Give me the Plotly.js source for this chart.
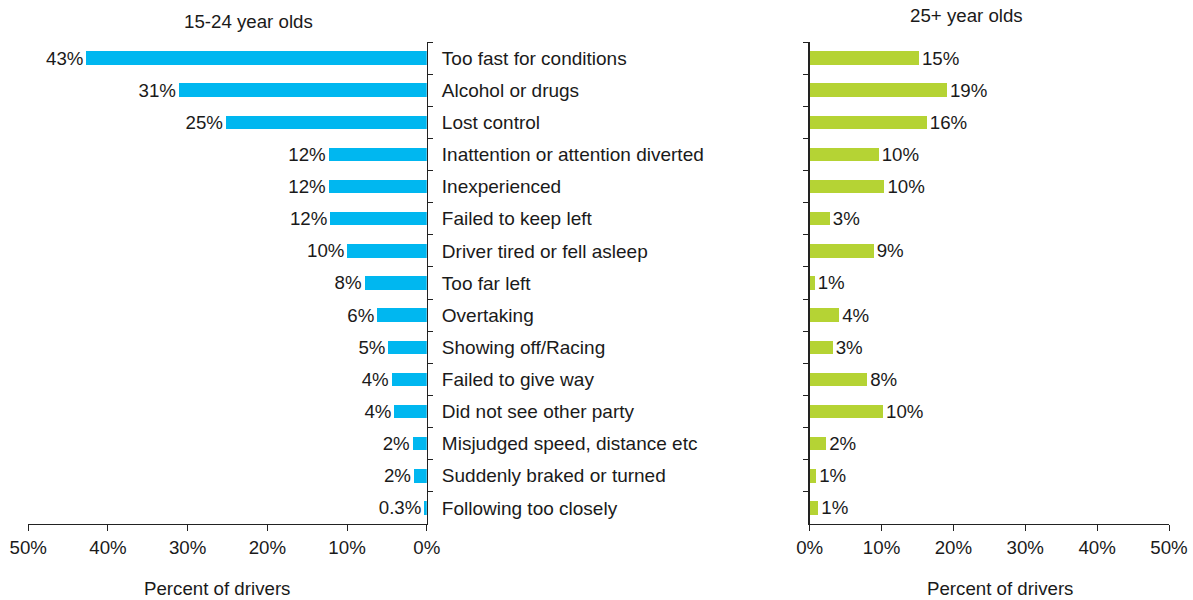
<!DOCTYPE html>
<html>
<head>
<meta charset="utf-8">
<script src="https://cdn.plot.ly/plotly-3.0.1.min.js"></script>
<style>html,body{margin:0;padding:0;background:#fff;}#chart{width:1193px;height:600px;}</style>
</head>
<body>
<div id="chart"></div>
<script>
const categories = [
  "Too fast for conditions",
  "Alcohol or drugs",
  "Lost control",
  "Inattention or attention diverted",
  "Inexperienced",
  "Failed to keep left",
  "Driver tired or fell asleep",
  "Too far left",
  "Overtaking",
  "Showing off/Racing",
  "Failed to give way",
  "Did not see other party",
  "Misjudged speed, distance etc",
  "Suddenly braked or turned",
  "Following too closely"
];
const young = [42.7, 31.1, 25.2, 12.3, 12.3, 12.1, 9.95, 7.8, 6.2, 4.8, 4.4, 4.05, 1.76, 1.6, 0.3];
const older = [15.2, 19.1, 16.3, 9.6, 10.4, 2.8, 8.9, 0.7, 4.1, 3.2, 8.0, 10.2, 2.3, 0.9, 1.2];
const xTickVals = [0, 10, 20, 30, 40, 50];
const xTickText = ["0%", "10%", "20%", "30%", "40%", "50%"];

function fmt(v) { const r = Math.round(v); return (r === 0 ? v.toFixed(1) : r.toString()) + "%"; }

const FONT = "Liberation Sans, Arial, sans-serif";
const TXT = "#1a1a1a";
const FS = 18.7;

const traces = [
  {
    type: "bar", orientation: "h",
    x: young, y: categories,
    xaxis: "x", yaxis: "y",
    marker: {color: "#00B7F0"},
    width: 0.42,
    text: young.map(fmt), textposition: "outside", cliponaxis: false, constraintext: "none",
    textfont: {family: FONT, size: FS, color: TXT},
    hoverinfo: "x+y"
  },
  {
    type: "bar", orientation: "h",
    x: older, y: categories,
    xaxis: "x2", yaxis: "y2",
    marker: {color: "#B5D334"},
    width: 0.42,
    text: older.map(fmt), textposition: "outside", cliponaxis: false, constraintext: "none",
    textfont: {family: FONT, size: FS, color: TXT},
    hoverinfo: "x+y"
  }
];

const yDomain = [0.1267, 0.93];
const commonX = {
  range: [0, 50], tickvals: xTickVals, ticktext: xTickText,
  showgrid: false, zeroline: false, showline: true, linecolor: "#222", linewidth: 1.3,
  ticks: "outside", ticklen: 6, tickcolor: "#222",
  tickfont: {family: FONT, size: FS, color: TXT}, fixedrange: true
};
const commonY = {
  type: "category", autorange: false, range: [14.5, -0.5],
  showgrid: false, zeroline: false, showline: true, linecolor: "#222", linewidth: 1.3,
  ticks: "outside", ticklen: 5, tickcolor: "#222", tickson: "boundaries",
  fixedrange: true
};

const layout = {
  width: 1193, height: 600,
  margin: {l: 0, r: 0, t: 0, b: 0},
  paper_bgcolor: "#fff", plot_bgcolor: "#fff",
  showlegend: false, bargap: 0,
  font: {family: FONT, color: TXT},
  xaxis: Object.assign({}, commonX, {
    domain: [0.0237, 0.3577], range: [50, 0], anchor: "y"
  }),
  yaxis: Object.assign({}, commonY, {
    domain: yDomain, anchor: "x", side: "right",
    showticklabels: true, tickfont: {family: FONT, size: 19, color: TXT},
    ticklabelstandoff: 10
  }),
  xaxis2: Object.assign({}, commonX, {
    domain: [0.6787, 0.9799], anchor: "y2"
  }),
  yaxis2: Object.assign({}, commonY, {
    domain: yDomain, anchor: "x2", side: "left", showticklabels: false
  }),
  annotations: [
    {text: "15-24 year olds", xref: "paper", yref: "paper", x: 248/1193, y: 1 - 22/600,
     showarrow: false, xanchor: "center", yanchor: "middle", font: {family: FONT, size: FS, color: TXT}},
    {text: "25+ year olds", xref: "paper", yref: "paper", x: 966/1193, y: 1 - 15/600,
     showarrow: false, xanchor: "center", yanchor: "middle", font: {family: FONT, size: FS, color: TXT}},
    {text: "Percent of drivers", xref: "paper", yref: "paper", x: 217/1193, y: 1 - 588/600,
     showarrow: false, xanchor: "center", yanchor: "middle", font: {family: FONT, size: FS, color: TXT}},
    {text: "Percent of drivers", xref: "paper", yref: "paper", x: 1000/1193, y: 1 - 588/600,
     showarrow: false, xanchor: "center", yanchor: "middle", font: {family: FONT, size: FS, color: TXT}}
  ]
};

Plotly.newPlot("chart", traces, layout, {displayModeBar: false, staticPlot: true});
</script>
</body>
</html>
